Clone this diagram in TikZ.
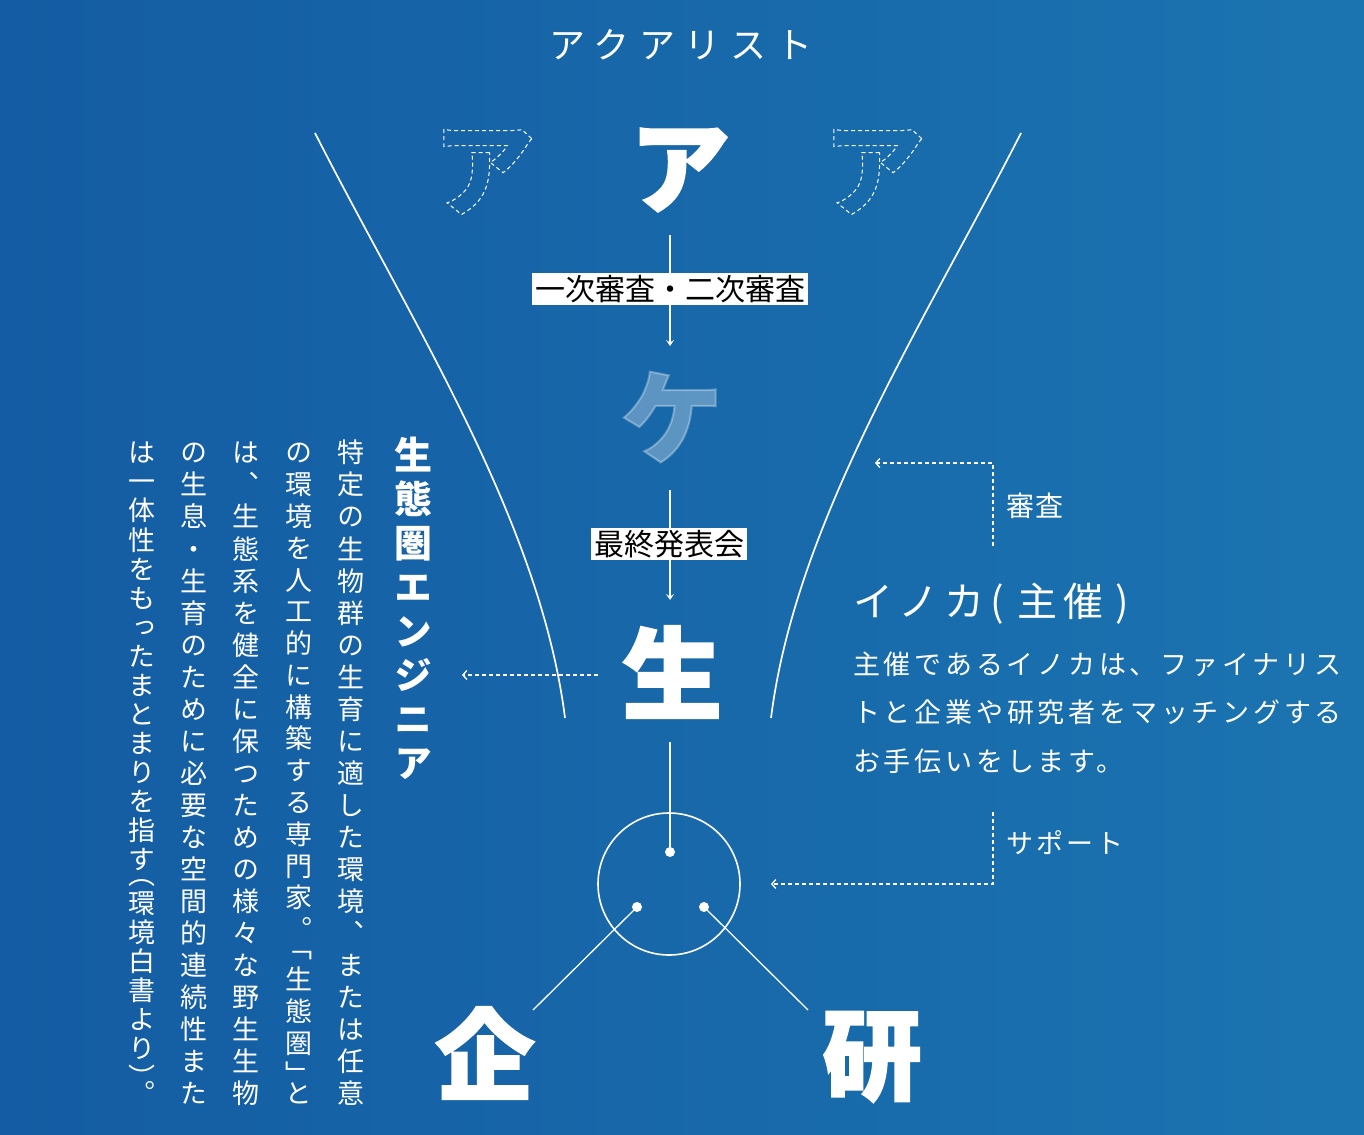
\documentclass[tikz,border=0pt]{standalone}
\usepackage{fontspec}
\usetikzlibrary{arrows.meta}
\newfontfamily\jp{Noto Sans CJK JP}
\newfontfamily\jpv{Noto Sans CJK JP}[RawFeature=+vert]
\newfontfamily\heavy{Noto Sans CJK JP}[BoldFeatures={FakeBold=2}]
\definecolor{bgl}{RGB}{20,92,163}
\definecolor{bgr}{RGB}{27,116,176}
\newcommand\fs[1]{\fontsize{#1}{#1}\selectfont}
\newcommand\dashglyph[1]{\special{pdf:literal direct 1 Tr 1 w [4 3] 0 d 1 1 1 RG}#1\special{pdf:literal direct 0 Tr [] 0 d}}
% vertical column machinery
\long\def\vgobble#1{}
\long\def\vfirst#1{#1}
\def\hwo{hwo-marker}
\def\hwc{hwc-marker}
\newcommand\vcol[2]{\vbox to #1{\offinterlineskip\vskip0pt plus-1fil\vcolaux#2\relax}}
\def\vcolaux#1{\ifx\relax#1\expandafter\vgobble\else\expandafter\vfirst\fi{\vstep#1}}
\def\vstep#1{\ifx\hwo#1\def\vnext{\vopenstep}\else\ifx\hwc#1\def\vnext{\vclosestep}\else\def\vnext{\vfullstep{#1}}\fi\fi\vnext}
\def\vfullstep#1{\vskip0pt plus1fil\vfullcell{#1}\vcolaux}
\def\vopenstep#1{\vskip0pt plus1fil\vopencell{#1}\vcolaux}
\def\vclosestep#1{\vskip0pt plus1fil\vclosecell{#1}\vcolaux}
\def\vfullcell#1{\hbox to 1em{\vrule width0pt height0.88em depth0.12em\hss#1\hss}}
\def\vopencell#1{\hbox to 1em{\vrule width0pt height0.38em depth0.12em\hss\smash{#1}\hss}}
\def\vclosecell#1{\hbox to 1em{\vrule width0pt height0.5em\hss\smash{\lower0.38em\hbox{#1}}\hss}}
\begin{document}
\begin{tikzpicture}[x=1pt,y=-1pt,
  txt/.style={text=white,inner sep=0pt},
  lab/.style={fill=white,text=black,inner xsep=3pt,inner ysep=1pt,text height=26pt,text depth=3.3pt,font=\jp\fs{30}},
  wline/.style={draw=white,line width=1.3pt},
  curve/.style={draw=white,line width=1.7pt},
  flow/.style={draw=white,line width=1.3pt,-{Stealth[length=6pt,width=8pt,inset=2.5pt]}},
  dasharrow/.style={draw=white,line width=1.3pt,dash pattern=on 4pt off 3pt,-{Straight Barb[length=4pt,width=9pt]}},
  dot/.style={circle,fill=white,minimum size=10pt,inner sep=0pt},
  hubc/.style={circle,draw=white,line width=1.6pt,minimum size=142pt,inner sep=0pt}]
\useasboundingbox (0,0) rectangle (1364,1134);
\shade[left color=bgl,right color=bgr] (0,0) rectangle (1364,1134);
% ghost outlines first
\node[txt] (ghostl) at (484,172) {\jp\bfseries\fs{102}\dashglyph{ア}};
\node[txt] (ghostr) at (874,172) {\jp\bfseries\fs{102}\dashglyph{ア}};
% title
\node[txt,anchor=base] (title) at (681,59) {\jp\fs{36}\addfontfeature{LetterSpace=27}アクアリスト};
% funnel
\coordinate (lt) at (315,133); \coordinate (lb) at (565,718);
\coordinate (rt) at (1021,133); \coordinate (rb) at (771,718);
\draw[curve] (lt) .. controls (410,320) and (540,520) .. (lb);
\draw[curve] (rt) .. controls (926,320) and (796,520) .. (rb);
% big glyphs
\node[txt] (a) at (680,170) {\heavy\bfseries\fs{100}ア};
\node[txt,text opacity=0.3] (ke) at (672,417) {\heavy\bfseries\fs{102}ケ};
\node[txt] (sei) at (672,672) {\heavy\bfseries\fs{100}生};
\node[txt] (ki) at (485,1053) {\heavy\bfseries\fs{99}企};
\node[txt] (ken) at (872,1057) {\heavy\bfseries\fs{99}研};
% flow
\coordinate (a-out) at (670,235); \coordinate (ke-in) at (670,346);
\draw[flow] (a-out) -- (ke-in);
\node[lab] (l1) at (670,289) {一次審査・二次審査};
\coordinate (ke-out) at (670,490); \coordinate (sei-in) at (670,600);
\draw[flow] (ke-out) -- (sei-in);
\node[lab] (l2) at (669,544) {最終発表会};
% hub
\node[hubc] (hub) at (669,884) {};
\node[dot] (d1) at (670,852) {};
\node[dot] (d2) at (637,907) {};
\node[dot] (d3) at (704,907) {};
\coordinate (sei-out) at (670,742);
\draw[wline] (sei-out) -- (d1.center);
\coordinate (ki-in) at (533,1010); \coordinate (ken-in) at (808,1010);
\draw[wline] (d2.center) -- (ki-in);
\draw[wline] (d3.center) -- (ken-in);
% dashed arrows
\coordinate (sei-l) at (598,675); \coordinate (eng-pt) at (462,675);
\draw[dasharrow] (sei-l) -- (eng-pt);
\coordinate (shinsa-s) at (993,546); \coordinate (fun-r) at (875,463);
\draw[dasharrow] (shinsa-s) |- (fun-r);
\coordinate (sup-n) at (993,812); \coordinate (hub-r) at (771,884);
\draw[dasharrow] (sup-n) |- (hub-r);
% right texts
\node[txt,anchor=base west] (shinsa) at (1006,516) {\jp\fs{28}\addfontfeature{LetterSpace=5}審査};
\node[txt,anchor=base west] (support) at (1006,853) {\jp\fs{27}\addfontfeature{LetterSpace=11}サポート};
\node[txt,anchor=base west] (inoka) at (853,616) {\jp\fs{40}\addfontfeature{LetterSpace=14}イノカ\hspace{6pt}(\hspace{14pt}主催\hspace{12pt})};
\node[txt,anchor=base west] (p1) at (853,674) {\jp\fs{27}\addfontfeature{LetterSpace=14}主催であるイノカは、ファイナリス};
\node[txt,anchor=base west] (p2) at (853,722) {\jp\fs{27}\addfontfeature{LetterSpace=14}トと企業や研究者をマッチングする};
\node[txt,anchor=base west] (p3) at (853,771) {\jp\fs{27}\addfontfeature{LetterSpace=14}お手伝いをします。};
% vertical texts
\node[txt,anchor=north] (eng) at (413,436) {\jpv\bfseries\fs{38}\vcol{341pt}{生態圏エンジニア}};
\node[txt,anchor=north] (c1) at (351,439) {\jpv\fs{27}\vcol{664pt}{特定の生物群の生育に適した環境、または任意}};
\node[txt,anchor=north] (c2) at (299,439) {\jpv\fs{27}\vcol{664pt}{の環境を人工的に構築する専門家。\hwo「生態圏\hwc」と}};
\node[txt,anchor=north] (c3) at (246,439) {\jpv\fs{27}\vcol{664pt}{は、生態系を健全に保つための様々な野生生物}};
\node[txt,anchor=north] (c4) at (194,439) {\jpv\fs{27}\vcol{664pt}{の生息・生育のために必要な空間的連続性また}};
\node[txt,anchor=north] (c5) at (142,439) {\jpv\fs{27}\vcol{664pt}{は一体性をもったまとまりを指す\hwo（環境白書より\hwc）。}};
\end{tikzpicture}
\end{document}
